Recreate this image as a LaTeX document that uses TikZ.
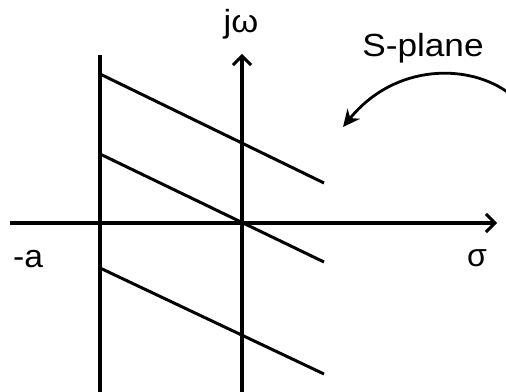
\documentclass[tikz,border=0pt]{standalone}
\usepackage{fontspec}
\setmainfont{Liberation Sans}
\usetikzlibrary{arrows.meta}
\begin{document}
\begin{tikzpicture}[x=1pt,y=1pt,
  axis/.style={line width=3.2pt,-{Straight Barb[length=9pt,width=18pt,line width=3pt]}},
  plain/.style={line width=3.2pt},
  slant/.style={line width=3pt},
  lbl/.style={font=\fontsize{32}{32}\selectfont,inner sep=0pt}]
\useasboundingbox (0,0) rectangle (506,391);
% axes
\coordinate (xs) at (10,168);
\coordinate (xe) at (497,168);
\coordinate (ys) at (242,-2);
\coordinate (ye) at (242,337);
\coordinate (as) at (100,-2);
\coordinate (ae) at (100,336);
\draw[axis] (xs) -- (xe);
\draw[axis] (ys) -- (ye);
\draw[plain] (as) -- (ae);
% slanted lines
\coordinate (l1a) at (100,317); \coordinate (l1b) at (324,208);
\coordinate (l2a) at (100,237); \coordinate (l2b) at (324,129);
\coordinate (l3a) at (100,123); \coordinate (l3b) at (324,17);
\draw[slant] (l1a) -- (l1b);
\draw[slant] (l2a) -- (l2b);
\draw[slant] (l3a) -- (l3b);
% labels
\node[lbl,anchor=base,xscale=1.08] (jw) at (241,358) {jω};
\node[lbl,anchor=base,xscale=1.1] (sp) at (423,334) {S-plane};
\node[lbl,anchor=base,xscale=1.05] (ma) at (28,123) {-a};
\node[lbl,anchor=base] (sg) at (477,124) {σ};
% curved arrow
\coordinate (cs) at (510,297);
\coordinate (ce) at (343,264);
\draw[line width=2.8pt,-{Stealth[length=17pt,width=16pt]}] (cs) .. controls (470,328) and (395,328) .. (ce);
\end{tikzpicture}
\end{document}
